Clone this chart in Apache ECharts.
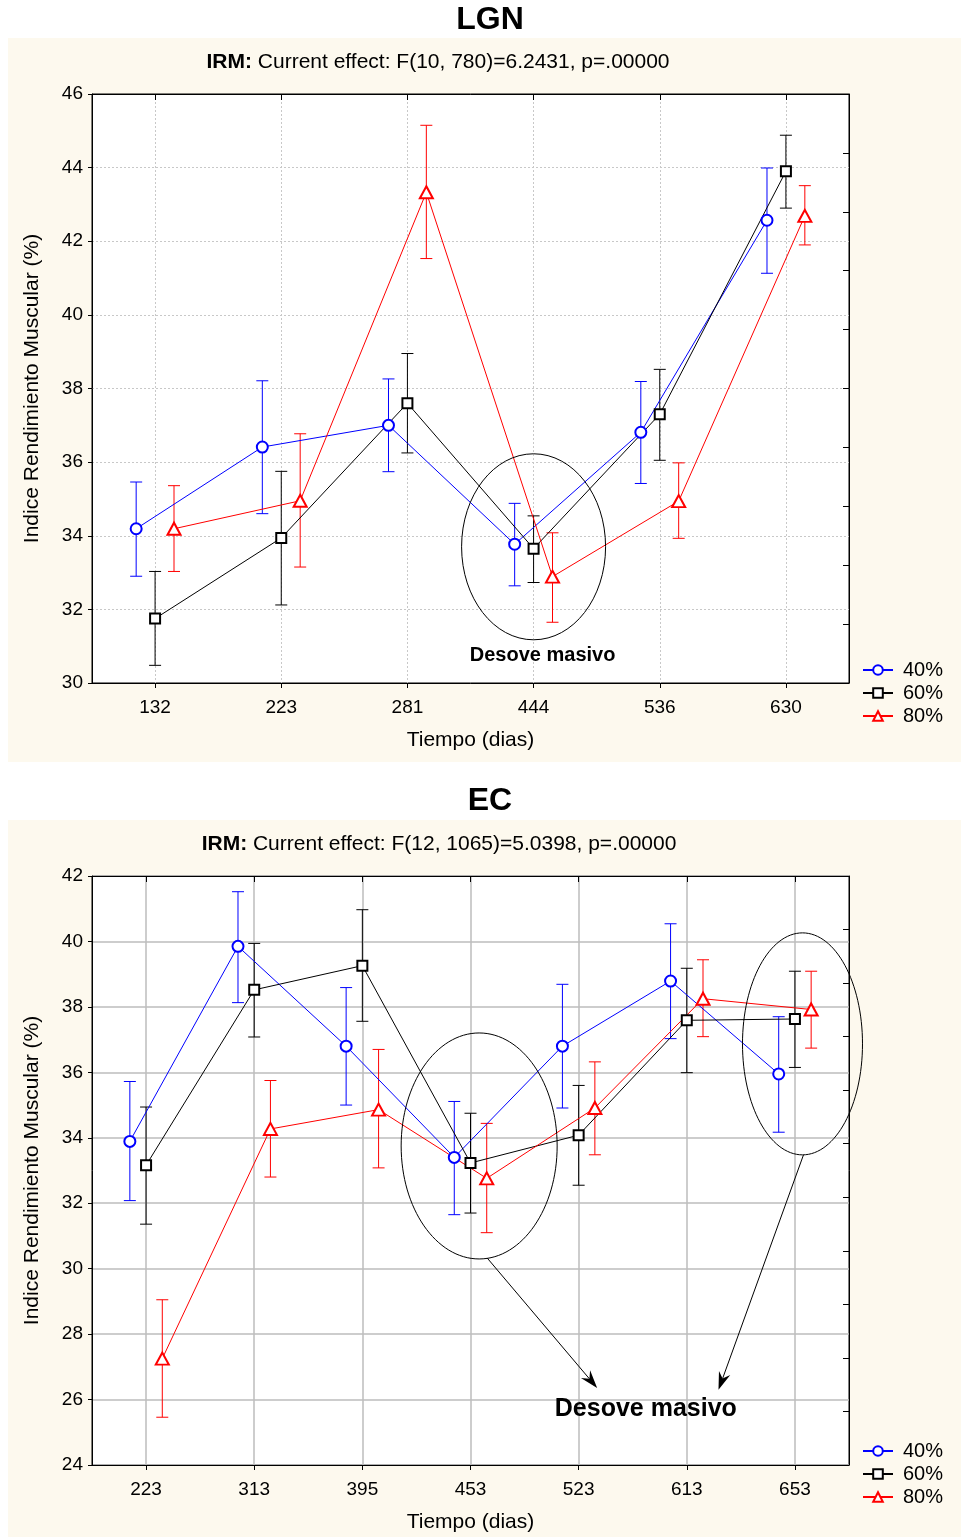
<!DOCTYPE html>
<html><head><meta charset="utf-8">
<script src="https://cdn.jsdelivr.net/npm/echarts@6/dist/echarts.min.js"></script>
<style>html,body{margin:0;padding:0;background:#fff}#c{width:961px;height:1537px}</style>
</head><body><div id="c"></div><script>
// ---------- DATA ----------
const seriesNames = ['40%', '60%', '80%'];

const lgnDays = ['132', '223', '281', '444', '536', '630'];
const lgn40   = [34.19, 36.41, 37.00, 33.77, 36.81, 42.57];
const lgn40Lo = [32.90, 34.60, 35.74, 32.64, 35.42, 41.13];
const lgn40Hi = [35.46, 38.21, 38.26, 34.88, 38.19, 43.99];
const lgn60   = [31.75, 33.94, 37.60, 33.65, 37.30, 43.90];
const lgn60Lo = [30.48, 32.12, 36.25, 32.73, 36.05, 42.90];
const lgn60Hi = [33.03, 35.75, 38.95, 34.54, 38.52, 44.88];
const lgn80   = [34.19, 34.95, 43.33, 32.89, 34.94, 42.69];
const lgn80Lo = [33.03, 33.15, 41.53, 31.65, 33.93, 41.90];
const lgn80Hi = [35.36, 36.77, 45.15, 34.08, 35.98, 43.51];

const ecDays = ['223', '313', '395', '453', '523', '613', '653'];
const ec40   = [33.89, 39.85, 36.80, 33.40, 36.80, 38.79, 35.95];
const ec40Lo = [32.08, 38.13, 35.00, 31.65, 34.91, 37.03, 34.17];
const ec40Hi = [35.72, 41.52, 38.59, 35.11, 38.69, 40.54, 37.70];
const ec60   = [33.16, 38.52, 39.26, 33.23, 34.08, 37.59, 37.63];
const ec60Lo = [31.36, 37.08, 37.56, 31.70, 32.55, 35.99, 36.15];
const ec60Hi = [34.94, 39.94, 40.97, 34.75, 35.60, 39.18, 39.09];
const ec80   = [27.25, 34.27, 34.86, 32.76, 34.91, 38.25, 37.92];
const ec80Lo = [25.46, 32.80, 33.08, 31.10, 33.48, 37.09, 36.74];
const ec80Hi = [29.05, 35.75, 36.70, 34.44, 36.32, 39.44, 39.09];

const lgnYRange = [30, 46];
const ecYRange = [24, 42];
const yStep = 2;

const lgnTitle = 'LGN';
const lgnSub = 'Current effect: F(10, 780)=6.2431, p=.00000';
const ecTitle = 'EC';
const ecSub = 'Current effect: F(12, 1065)=5.0398, p=.00000';
const yName = 'Indice Rendimiento Muscular (%)';
const xName = 'Tiempo (dias)';
const annotText = 'Desove masivo';

// ---------- STYLE ----------
const FONT = 'Liberation Sans, Arial, Helvetica, sans-serif';
const colors = ['#0000ff', '#000000', '#ff0000'];
const symbols = ['emptyCircle', 'emptyRect', 'emptyTriangle'];
const symbolSizes = [11, 10, [13, 12]];
const borderWidths = [1.5, 1.8, 1.2];
const offsets = [-0.15, 0, 0.15];

const panels = [
  { days: lgnDays, vals: [lgn40, lgn60, lgn80], lo: [lgn40Lo, lgn60Lo, lgn80Lo], hi: [lgn40Hi, lgn60Hi, lgn80Hi],
    yr: lgnYRange, top: 94, rightDiv: 10, split: { color: '#c8c8c8', type: [2, 2], width: 1 }, legendTop: 660 },
  { days: ecDays, vals: [ec40, ec60, ec80], lo: [ec40Lo, ec60Lo, ec80Lo], hi: [ec40Hi, ec60Hi, ec80Hi],
    yr: ecYRange, top: 876, rightDiv: 11, split: { color: '#bdbdbd', type: 'solid', width: 1.5 }, legendTop: 1441 }
];

const grids = [], xAxes = [], yAxes = [], series = [], legends = [];
panels.forEach((p, k) => {
  grids.push({ left: 92, top: p.top, width: 757, height: 589, show: true, backgroundColor: '#fff',
    borderColor: '#000', borderWidth: 1, containLabel: false });
  const n = p.days.length;
  xAxes.push({ type: 'category', gridIndex: k, data: p.days, boundaryGap: true, position: 'bottom',
    axisLine: { show: true, onZero: false, lineStyle: { color: '#000', width: 1 } },
    axisTick: { show: true, alignWithLabel: true, inside: false, length: 5, lineStyle: { color: '#000' } },
    axisLabel: { fontSize: 19, color: '#000', fontFamily: FONT, margin: 15 },
    splitLine: { show: true, alignWithLabel: true, lineStyle: p.split },
    name: xName, nameLocation: 'middle', nameGap: 47,
    nameTextStyle: { fontSize: 21, color: '#000', fontFamily: FONT } });
  xAxes.push({ type: 'category', gridIndex: k, data: p.days, boundaryGap: true, position: 'top',
    axisLine: { show: true, onZero: false, lineStyle: { color: '#000' } },
    axisTick: { show: true, alignWithLabel: true, inside: true, length: 6, lineStyle: { color: '#000' } },
    axisLabel: { show: false }, splitLine: { show: false } });
  xAxes.push({ type: 'value', gridIndex: k, min: -0.5, max: n - 0.5, show: false,
    axisLine: { onZero: false } });
  yAxes.push({ type: 'value', gridIndex: k, min: p.yr[0], max: p.yr[1], interval: yStep, position: 'left',
    axisLine: { show: true, onZero: false, lineStyle: { color: '#000' } },
    axisTick: { show: true, inside: false, length: 4, lineStyle: { color: '#000' } },
    axisLabel: { fontSize: 19, color: '#000', fontFamily: FONT, margin: 9 },
    splitLine: { show: true, lineStyle: p.split },
    name: yName, nameLocation: 'middle', nameGap: 49,
    nameTextStyle: { fontSize: 21, color: '#000', fontFamily: FONT } });
  yAxes.push({ type: 'value', gridIndex: k, min: p.yr[0], max: p.yr[1],
    interval: (p.yr[1] - p.yr[0]) / p.rightDiv, position: 'right',
    axisLine: { show: true, onZero: false, lineStyle: { color: '#000' } },
    axisTick: { show: true, inside: true, length: 6, lineStyle: { color: '#000' } },
    axisLabel: { show: false }, splitLine: { show: false } });

  for (let s = 0; s < 3; s++) {
    const xi = 3 * k + 2, yi = 2 * k;
    series.push({
      type: 'custom', name: seriesNames[s] + '_err' + k, xAxisIndex: xi, yAxisIndex: yi, z: 2, silent: true,
      data: p.vals[s].map((v, i) => [i + offsets[s], p.lo[s][i], p.hi[s][i]]),
      renderItem: (params, api) => {
        const x = api.value(0);
        const a = api.coord([x, api.value(1)]);
        const b = api.coord([x, api.value(2)]);
        const w = 6;
        const st = { stroke: colors[s], lineWidth: 1 };
        return { type: 'group', children: [
          { type: 'line', shape: { x1: a[0], y1: a[1], x2: b[0], y2: b[1] }, style: st },
          { type: 'line', shape: { x1: a[0] - w, y1: a[1], x2: a[0] + w, y2: a[1] }, style: st },
          { type: 'line', shape: { x1: b[0] - w, y1: b[1], x2: b[0] + w, y2: b[1] }, style: st }
        ] };
      }
    });
    series.push({
      type: 'line', name: seriesNames[s], xAxisIndex: xi, yAxisIndex: yi, z: 3,
      data: p.vals[s].map((v, i) => [i + offsets[s], v]),
      symbol: symbols[s], symbolSize: symbolSizes[s],
      lineStyle: { color: colors[s], width: 1 },
      itemStyle: { color: colors[s], borderColor: colors[s], borderWidth: borderWidths[s] },
      emphasis: { disabled: true }
    });
  }
  legends.push({ data: seriesNames, orient: 'vertical', left: 862, top: p.legendTop, padding: 0,
    itemWidth: 30, itemHeight: 12, itemGap: 3, selectedMode: false,
    textStyle: { fontSize: 20, color: '#000', fontFamily: FONT, padding: [0, 0, 0, 5] } });
});

const chart = echarts.init(document.getElementById('c'), null, { renderer: 'canvas' });
chart.setOption({
  animation: false, backgroundColor: '#fff',
  grid: grids, xAxis: xAxes, yAxis: yAxes, series: series, legend: legends
});

// ---------- ANNOTATIONS ----------
function px(k, x, y) { return chart.convertToPixel({ xAxisIndex: 3 * k + 2, yAxisIndex: 2 * k }, [x, y]); }
function arrow(x1, y1, x2, y2) {
  const ang = Math.atan2(y2 - y1, x2 - x1);
  const L = 18, W = 6, N = 12;
  const ca = Math.cos(ang), sa = Math.sin(ang);
  const pt = (d, o) => [x2 - d * ca - o * sa, y2 - d * sa + o * ca];
  return [
    { type: 'line', z: 50, shape: { x1, y1, x2: pt(N, 0)[0], y2: pt(N, 0)[1] }, style: { stroke: '#000', lineWidth: 1 } },
    { type: 'polygon', z: 51, shape: { points: [[x2, y2], pt(L, W), pt(N, 0), pt(L, -W)] }, style: { fill: '#000' } }
  ];
}
const TXT = (text, x, y, size, bold, extra) => Object.assign({ type: 'text', z: 60, style: Object.assign({
  text, x, y, fontSize: size, fontWeight: bold ? 'bold' : 'normal', fontFamily: FONT, fill: '#000',
  align: 'center', verticalAlign: 'middle' }, extra || {}) });

const e1 = px(0, 3, 33.7);
const e2 = px(1, 3.08, 33.75);
const e3 = px(1, 6.07, 36.87);
const richB = { b: { fontWeight: 'bold', fontSize: 21, fontFamily: FONT } };
const g = [
  { type: 'rect', z: -100, shape: { x: 8, y: 38, width: 953, height: 724 }, style: { fill: '#fdf9ee' } },
  { type: 'rect', z: -100, shape: { x: 8, y: 820, width: 953, height: 717 }, style: { fill: '#fdf9ee' } },
  TXT(lgnTitle, 490, 20, 32, true),
  TXT('{b|IRM:} ' + lgnSub, 438, 62, 21, false, { rich: richB }),
  TXT(ecTitle, 490, 801, 32, true),
  TXT('{b|IRM:} ' + ecSub, 439, 844, 21, false, { rich: richB }),
  { type: 'ellipse', z: 50, shape: { cx: e1[0], cy: e1[1], rx: 72, ry: 93 }, style: { fill: 'none', stroke: '#000', lineWidth: 1 } },
  TXT(annotText, e1[0] + 9, e1[1] + 109, 20, true),
  { type: 'ellipse', z: 50, shape: { cx: e2[0], cy: e2[1], rx: 78, ry: 113 }, style: { fill: 'none', stroke: '#000', lineWidth: 1 } },
  { type: 'ellipse', z: 50, shape: { cx: e3[0], cy: e3[1], rx: 60, ry: 111 }, style: { fill: 'none', stroke: '#000', lineWidth: 1 } },
  ...arrow(e2[0] + 8, e2[1] + 112, e2[0] + 118, e2[1] + 242),
  ...arrow(e3[0] + 1, e3[1] + 111, e3[0] - 84, e3[1] + 346),
  TXT(annotText, (e2[0] + e3[0]) / 2 + 5, e2[1] + 263, 25, true)
];
chart.setOption({ graphic: { elements: g } });
</script></body></html>
